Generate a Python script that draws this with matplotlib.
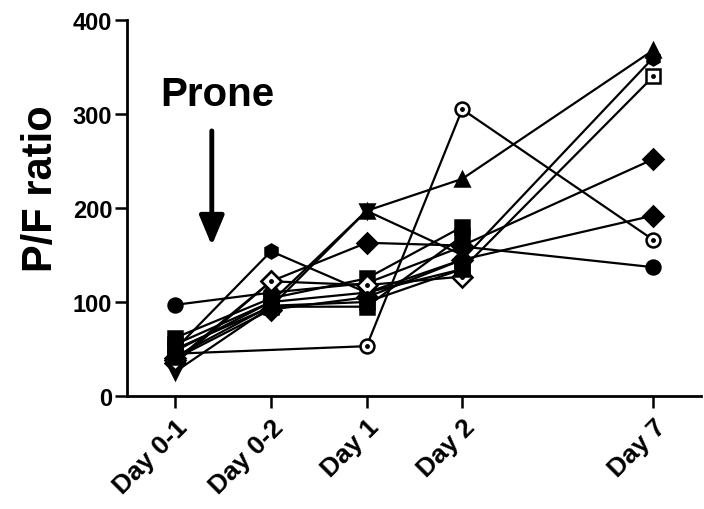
import matplotlib
matplotlib.use("Agg")
import matplotlib.pyplot as plt

plt.rcParams['font.family'] = ['Liberation Sans', 'DejaVu Sans']
plt.rcParams['font.weight'] = 'bold'

# Time points (Day 7 sits two slots after Day 2)
days = ["Day 0-1", "Day 0-2", "Day 1", "Day 2", "Day 7"]
day_pos = [0, 1, 2, 3, 5]

# P/F ratio per patient (None = not measured)
pt01 = [97, 110, 120, 159, 137]
pt02 = [45, None, 53, 305, 166]
pt03 = [48, 100, 197, 231, 368]
pt04 = [26, 95, 197, 150, None]
pt05 = [35, 122, 163, 160, 252]
pt06 = [55, 100, 110, 135, 340]
pt07 = [50, 154, 110, 145, 360]
pt08 = [40, 92, 105, 145, 192]
pt09 = [62, 104, 125, 180, None]
pt10 = [50, 95, 95, 170, None]
pt11 = [38, 122, 118, 127, None]
pt12 = [42, 96, 100, 135, None]

patients = [pt01, pt02, pt03, pt04, pt05, pt06, pt07, pt08, pt09, pt10, pt11, pt12]
styles = [
    ('o', 'black'), ('o', 'white'), ('^', 'black'), ('v', 'black'),
    ('D', 'black'), ('s', 'white'), ('h', 'black'), ('D', 'black'),
    ('s', 'black'), ('s', 'black'), ('D', 'white'), ('s', 'black'),
]

fig = plt.figure(figsize=(7.04, 5.10), dpi=100)
ax = fig.add_axes([0.180, 0.2216, 0.816, 0.7372])

for vals, (mk, fc) in zip(patients, styles):
    xs = [p for p, v in zip(day_pos, vals) if v is not None]
    ys = [v for v in vals if v is not None]
    ax.plot(xs, ys, color='black', lw=1.6, marker=mk, ms=10,
            mfc=fc, mec='black', mew=1.8, zorder=3)
    if fc == 'white':
        # small centre dot inside the open symbols
        ax.plot(xs, ys, ls='none', marker='o', ms=2.5, mfc='black',
                mec='black', zorder=4)

ax.set_xlim(-0.51, 5.5)
ax.set_ylim(0, 400)
ax.set_yticks([0, 100, 200, 300, 400])
ax.set_xticks(day_pos)
ax.set_xticklabels(days, rotation=45, ha='right', va='top',
                   rotation_mode='anchor', fontsize=19, fontweight='bold')
for lbl in ax.get_yticklabels():
    lbl.set_fontsize(17)
    lbl.set_fontweight('bold')

for side in ('top', 'right'):
    ax.spines[side].set_visible(False)
for side in ('left', 'bottom'):
    ax.spines[side].set_linewidth(2.0)
ax.tick_params(axis='both', length=8.5, width=1.8, direction='out', pad=2)
ax.tick_params(axis='x', pad=5)

ax.set_ylabel("P/F ratio", fontsize=30, fontweight='bold')
ax.yaxis.set_label_coords(-0.115, 0.555)

ax.text(0.44, 310, "Prone", fontsize=29, fontweight='bold',
        ha='center', va='baseline')
ax.annotate("", xy=(0.38, 160), xytext=(0.38, 282),
            arrowprops=dict(arrowstyle='-|>,head_length=1.8,head_width=0.75',
                            lw=3.5, color='black', shrinkA=0, shrinkB=0))

fig.savefig("out.png", dpi=100)
